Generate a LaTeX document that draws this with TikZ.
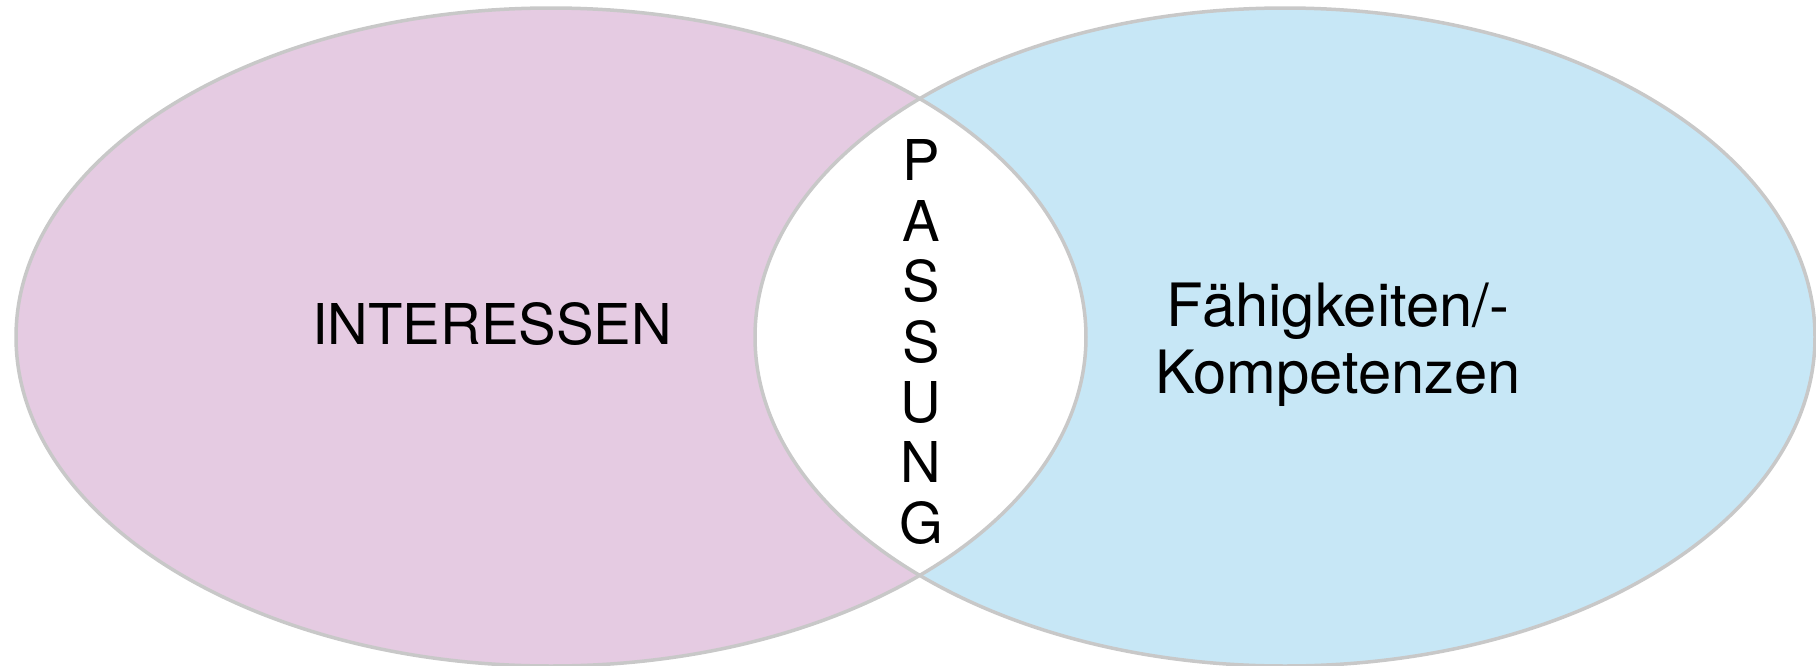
\documentclass[tikz,border=0pt]{standalone}
\usepackage{fontspec}
\setmainfont{TeX Gyre Heros}
\definecolor{interessenpink}{RGB}{229,203,226}
\definecolor{faehigblau}{RGB}{199,231,246}
\definecolor{randgrau}{RGB}{200,200,200}
\tikzstyle{rand} = [draw=randgrau,line width=0.35mm]
\tikzstyle{label} = [font=\fontsize{16}{19}\selectfont,align=center,inner sep=0pt]

\begin{document}
\begin{tikzpicture}[x=0.1mm,y=-0.1mm]
	\useasboundingbox (0,0) rectangle (1816,666);
	\fill[interessenpink] (551,337) ellipse [x radius=53.5mm,y radius=32.9mm];
	\fill[faehigblau] (1285,337) ellipse [x radius=53mm,y radius=32.9mm];
	\begin{scope}
		\clip (551,337) ellipse [x radius=53.5mm,y radius=32.9mm];
		\fill[white] (1285,337) ellipse [x radius=53mm,y radius=32.9mm];
	\end{scope}
	\draw[rand] (551,337) ellipse [x radius=53.5mm,y radius=32.9mm];
	\draw[rand] (1285,337) ellipse [x radius=53mm,y radius=32.9mm];
	\node[label] (interessen) at (492,324) {INTERESSEN};
	\node[label,font=\fontsize{17}{19}\selectfont] (faehig) at (1338,345) {Fähigkeiten/-\\Kompetenzen};
	\node[label,font=\fontsize{16}{17.2}\selectfont] (passung) at (921,342) {P\\A\\S\\S\\U\\N\\G};
\end{tikzpicture}
\end{document}
